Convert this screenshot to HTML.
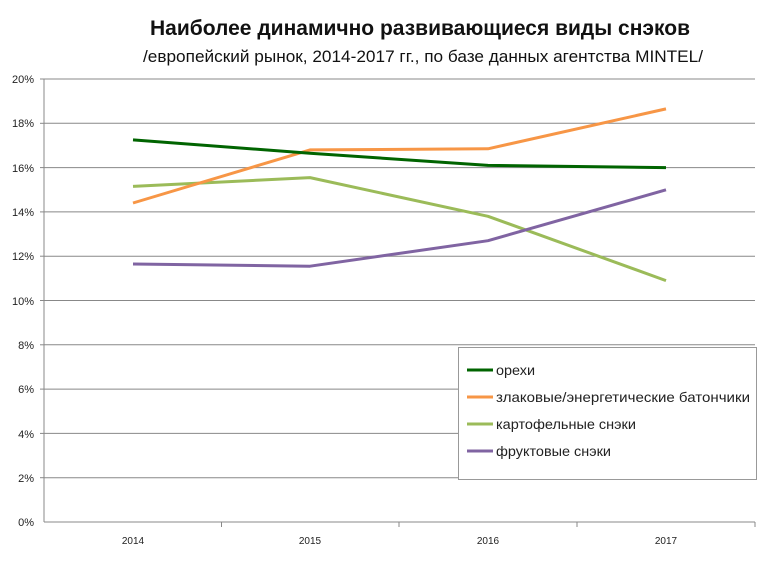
<!DOCTYPE html>
<html><head><meta charset="utf-8"><style>
body{margin:0;background:#fff;}
svg text{font-family:"Liberation Sans",sans-serif;}
</style></head><body>
<svg width="764" height="556" xmlns="http://www.w3.org/2000/svg">
<rect width="764" height="556" fill="#fff"/>
<text x="150" y="35" font-size="21" font-weight="bold" fill="#111" textLength="540" lengthAdjust="spacingAndGlyphs">Наиболее динамично развивающиеся виды снэков</text>
<text x="143" y="62" font-size="16.5" fill="#111" textLength="560" lengthAdjust="spacingAndGlyphs">/европейский рынок, 2014-2017 гг., по базе данных агентства MINTEL/</text>
<g stroke="#888" stroke-width="1">
<line x1="44" y1="79" x2="755" y2="79"/><line x1="44" y1="123.3" x2="755" y2="123.3"/>
<line x1="44" y1="167.6" x2="755" y2="167.6"/><line x1="44" y1="211.9" x2="755" y2="211.9"/>
<line x1="44" y1="256.2" x2="755" y2="256.2"/><line x1="44" y1="300.5" x2="755" y2="300.5"/>
<line x1="44" y1="344.8" x2="755" y2="344.8"/><line x1="44" y1="389.1" x2="755" y2="389.1"/>
<line x1="44" y1="433.4" x2="755" y2="433.4"/><line x1="44" y1="477.7" x2="755" y2="477.7"/>
<line x1="44" y1="522" x2="755" y2="522"/>
<line x1="44" y1="79" x2="44" y2="522"/>
<line x1="40" y1="79" x2="44" y2="79"/><line x1="40" y1="123.3" x2="44" y2="123.3"/><line x1="40" y1="167.6" x2="44" y2="167.6"/><line x1="40" y1="211.9" x2="44" y2="211.9"/><line x1="40" y1="256.2" x2="44" y2="256.2"/><line x1="40" y1="300.5" x2="44" y2="300.5"/><line x1="40" y1="344.8" x2="44" y2="344.8"/><line x1="40" y1="389.1" x2="44" y2="389.1"/><line x1="40" y1="433.4" x2="44" y2="433.4"/><line x1="40" y1="477.7" x2="44" y2="477.7"/>
<line x1="221.5" y1="522" x2="221.5" y2="527"/><line x1="399" y1="522" x2="399" y2="527"/><line x1="577" y1="522" x2="577" y2="527"/><line x1="755" y1="522" x2="755" y2="527"/>
</g>
<g font-size="11" fill="#222" text-anchor="end">
<text x="34" y="83">20%</text><text x="34" y="127">18%</text><text x="34" y="172">16%</text><text x="34" y="216">14%</text><text x="34" y="260">12%</text><text x="34" y="305">10%</text><text x="34" y="349">8%</text><text x="34" y="393">6%</text><text x="34" y="438">4%</text><text x="34" y="482">2%</text><text x="34" y="526">0%</text>
</g>
<g font-size="10" fill="#222" text-anchor="middle">
<text x="133" y="544">2014</text><text x="310" y="544">2015</text><text x="488" y="544">2016</text><text x="666" y="544">2017</text>
</g>
<g fill="none" stroke-width="3" stroke-linejoin="round">
<polyline stroke="#9bbb59" points="133,186.4 310,177.6 488,216.3 666,280.6"/>
<polyline stroke="#f79646" points="133,203.0 310,149.9 488,148.8 666,108.9"/>
<polyline stroke="#006400" points="133,139.9 310,153.2 488,165.4 666,167.6"/>
<polyline stroke="#8064a2" points="133,264.0 310,266.2 488,240.7 666,189.8"/>
</g>
<rect x="458.5" y="347.5" width="298" height="132" fill="#fff" stroke="#999"/>
<g stroke-width="3">
<line x1="467" y1="370" x2="493" y2="370" stroke="#006400"/>
<line x1="467" y1="397" x2="493" y2="397" stroke="#f79646"/>
<line x1="467" y1="424" x2="493" y2="424" stroke="#9bbb59"/>
<line x1="467" y1="451" x2="493" y2="451" stroke="#8064a2"/>
</g>
<g font-size="14" fill="#222">
<text x="496" y="375" textLength="39" lengthAdjust="spacingAndGlyphs">орехи</text>
<text x="496" y="402" textLength="254" lengthAdjust="spacingAndGlyphs">злаковые/энергетические батончики</text>
<text x="496" y="429" textLength="140" lengthAdjust="spacingAndGlyphs">картофельные снэки</text>
<text x="496" y="456" textLength="115" lengthAdjust="spacingAndGlyphs">фруктовые снэки</text>
</g>
</svg>
</body></html>
